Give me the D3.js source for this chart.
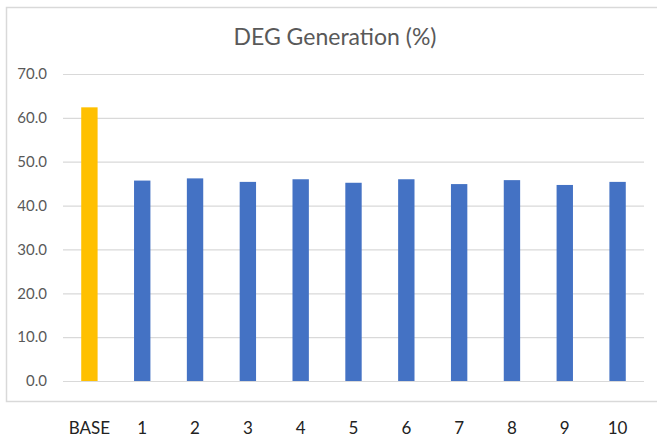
<!DOCTYPE html>
<html>
<head>
<meta charset="utf-8">
<script src="https://cdn.jsdelivr.net/npm/d3@7"></script>
<style>
  html, body { margin: 0; padding: 0; background: #ffffff; }
  svg { display: block; }
</style>
</head>
<body>
<svg id="chart" width="657" height="441"></svg>
<script>
// Data
const categories = ["BASE", "1", "2", "3", "4", "5", "6", "7", "8", "9", "10"];
const values = [62.4, 45.7, 46.2, 45.4, 46.0, 45.2, 46.0, 44.9, 45.8, 44.7, 45.4];
const yTicks = [0, 10, 20, 30, 40, 50, 60, 70];
const titleText = "DEG Generation (%)";

const W = 657, H = 441;
const plot = { left: 63, right: 644, top: 74, bottom: 381 };
const fontFamily = "Lato, 'Open Sans', sans-serif";
const textColor = "#595959";

const svg = d3.select("#chart");

// Chart frame
svg.append("rect")
  .attr("x", 6.5).attr("y", 7.5)
  .attr("width", 700).attr("height", 394)
  .attr("fill", "#ffffff")
  .attr("stroke", "#d9d9d9")
  .attr("stroke-width", 1.5);

const x = d3.scaleBand()
  .domain(categories)
  .range([plot.left, plot.right])
  .paddingInner(0.69)
  .paddingOuter(0.345);

const y = d3.scaleLinear()
  .domain([0, 70])
  .range([plot.bottom, plot.top]);

// Gridlines and y labels via axis
const yAxis = d3.axisLeft(y)
  .tickValues(yTicks)
  .tickSize(-(plot.right - plot.left))
  .tickPadding(16)
  .tickFormat(d3.format(".1f"));

const yg = svg.append("g")
  .attr("transform", `translate(${plot.left},0)`)
  .call(yAxis);
yg.select(".domain").remove();
yg.selectAll(".tick line")
  .attr("stroke", "#d9d9d9")
  .attr("stroke-width", 1.2);
yg.selectAll(".tick text")
  .attr("fill", textColor)
  .attr("font-family", fontFamily)
  .attr("font-size", 15);

// Bars
svg.append("g").selectAll("rect")
  .data(values)
  .join("rect")
  .attr("x", (d, i) => x(categories[i]))
  .attr("width", x.bandwidth())
  .attr("y", d => y(d))
  .attr("height", d => y(0) - y(d))
  .attr("fill", (d, i) => i === 0 ? "#FFC000" : "#4472C4");

// Category labels below the frame
const xAxis = d3.axisBottom(x).tickSize(0).tickPadding(0);
const xg = svg.append("g")
  .attr("transform", `translate(0,422)`)
  .call(xAxis);
xg.select(".domain").remove();
xg.selectAll(".tick text")
  .attr("fill", "#222222")
  .attr("font-family", fontFamily)
  .attr("font-size", 17)
  .attr("dy", "0.71em");

// Title
svg.append("text")
  .attr("x", 335)
  .attr("y", 45)
  .attr("text-anchor", "middle")
  .attr("fill", textColor)
  .attr("font-family", fontFamily)
  .attr("font-size", 23)
  .text(titleText);
</script>
</body>
</html>
